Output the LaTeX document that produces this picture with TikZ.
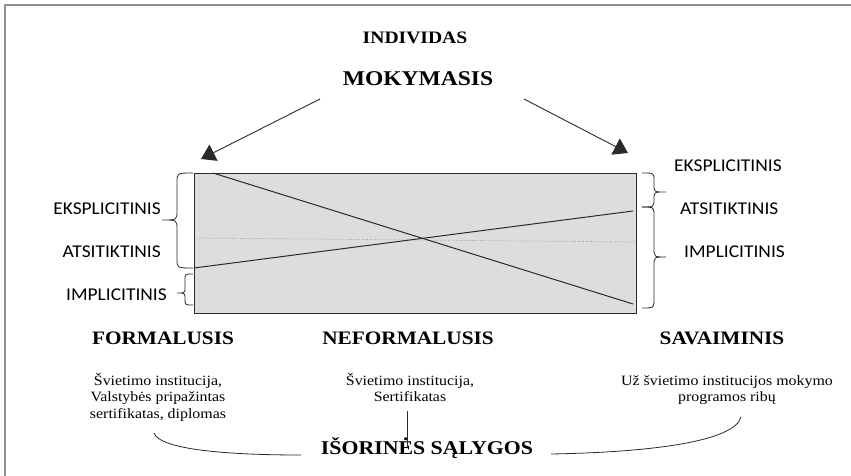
\documentclass[tikz,border=0pt]{standalone}
\usepackage{fontspec}
\setmainfont[FakeStretch=1.12]{Liberation Serif}
\newfontfamily\levelfont[FakeStretch=1.08]{Carlito}
\usetikzlibrary{arrows.meta}
\definecolor{boxgray}{HTML}{DCDDDF}
\definecolor{framegray}{HTML}{8E8E8E}
\definecolor{inkgray}{HTML}{2A2A2A}
\tikzset{
  head/.style={font=\bfseries\fontsize{17.5}{20}\selectfont, inner sep=0pt},
  title/.style={font=\bfseries\fontsize{21}{24}\selectfont, inner sep=0pt},
  kind/.style={font=\bfseries\fontsize{19}{22}\selectfont, inner sep=0pt},
  note/.style={font=\fontsize{14.2}{16.5}\selectfont, align=center, inner sep=0pt},
  level/.style={font=\levelfont\fontsize{18}{21}\selectfont, inner sep=0pt},
  line/.style={-{Triangle[length=14pt,width=18pt]}, line width=0.9pt, draw=inkgray},
  curly/.style={line width=0.8pt, draw=inkgray}
}

\begin{document}
\begin{tikzpicture}[x=1pt, y=-1pt]
  \useasboundingbox (0,0) rectangle (851,476);
  \draw[framegray, line width=1.5pt] (5,476) -- (5,5) -- (851,5);

  \node[head] (indiv) at (415,38) {INDIVIDAS};
  \node[title] (learn) at (418,79) {MOKYMASIS};

  % arrows down to the field
  \coordinate (lstart) at (320,99);
  \coordinate (ltip) at (201,159);
  \coordinate (rstart) at (524,99);
  \coordinate (rtip) at (628,153);
  \draw[line] (lstart) -- (ltip);
  \draw[line] (rstart) -- (rtip);

  % the field
  \draw[inkgray, fill=boxgray, line width=0.9pt] (194,173) rectangle (636,313);
  \draw[framegray, dotted, line width=0.7pt] (197,238) -- (636,242);
  \draw[inkgray, line width=1pt] (213,173) -- (633,304);
  \draw[inkgray, line width=1pt] (194,268) -- (633,211);

  % left braces
  \draw[curly] (193,173) .. controls (177,173) .. (177,182) -- (177,211)
    .. controls (177,220) .. (162,220) .. controls (177,220) .. (177,229)
    -- (177,259) .. controls (177,268) .. (193,268);
  \draw[curly] (193,274) .. controls (185,274) .. (185,280) -- (185,287)
    .. controls (185,293) .. (177,293) .. controls (185,293) .. (185,299)
    .. controls (185,305) .. (193,305);
  \node[level, anchor=east] (lexp) at (161,209) {EKSPLICITINIS};
  \node[level, anchor=east] (lacc) at (161,252) {ATSITIKTINIS};
  \node[level, anchor=east] (limp) at (167,295) {IMPLICITINIS};

  % right braces
  \draw[curly] (642,173) .. controls (654,173) .. (654,180) -- (654,185)
    .. controls (654,192) .. (666,192) .. controls (654,192) .. (654,199)
    .. controls (654,207) .. (642,207);
  \draw[curly] (642,207) .. controls (654,207) .. (654,216) -- (654,248)
    .. controls (654,257) .. (666,257) .. controls (654,257) .. (654,266)
    -- (654,299) .. controls (654,308) .. (642,308);
  \node[level, anchor=west] (rexp) at (674,166) {EKSPLICITINIS};
  \node[level, anchor=west] (racc) at (680,209) {ATSITIKTINIS};
  \node[level, anchor=west] (rimp) at (684,252) {IMPLICITINIS};

  % kinds of learning
  \node[kind] (formal) at (163,338) {FORMALUSIS};
  \node[kind] (nonformal) at (408,338) {NEFORMALUSIS};
  \node[kind] (informal) at (722,338) {SAVAIMINIS};

  \node[note, anchor=base] (subformal) at (158,418)
    {Švietimo institucija,\\Valstybės pripažintas\\sertifikatas, diplomas};
  \node[note, anchor=base] (subnonformal) at (410,401.5)
    {Švietimo institucija,\\Sertifikatas};
  \node[note, anchor=base] (subinformal) at (727,401.5)
    {Už švietimo institucijos mokymo\\programos ribų};

  \node[kind, font=\bfseries\fontsize{19.5}{22}\selectfont] (external) at (427,448) {IŠORINĖS SĄLYGOS};

  % links to the external conditions
  \coordinate (ftail) at (154,433);
  \coordinate (fend) at (301,455);
  \coordinate (ntop) at (407,411);
  \coordinate (nend) at (407,448);
  \coordinate (istart) at (551,454);
  \coordinate (itail) at (741,417);
  \draw[curly] (ftail) .. controls (160,450) and (230,455) .. (fend);
  \draw[curly] (ntop) -- (nend);
  \draw[curly] (istart) .. controls (660,452) and (735,440) .. (itail);
\end{tikzpicture}
\end{document}
